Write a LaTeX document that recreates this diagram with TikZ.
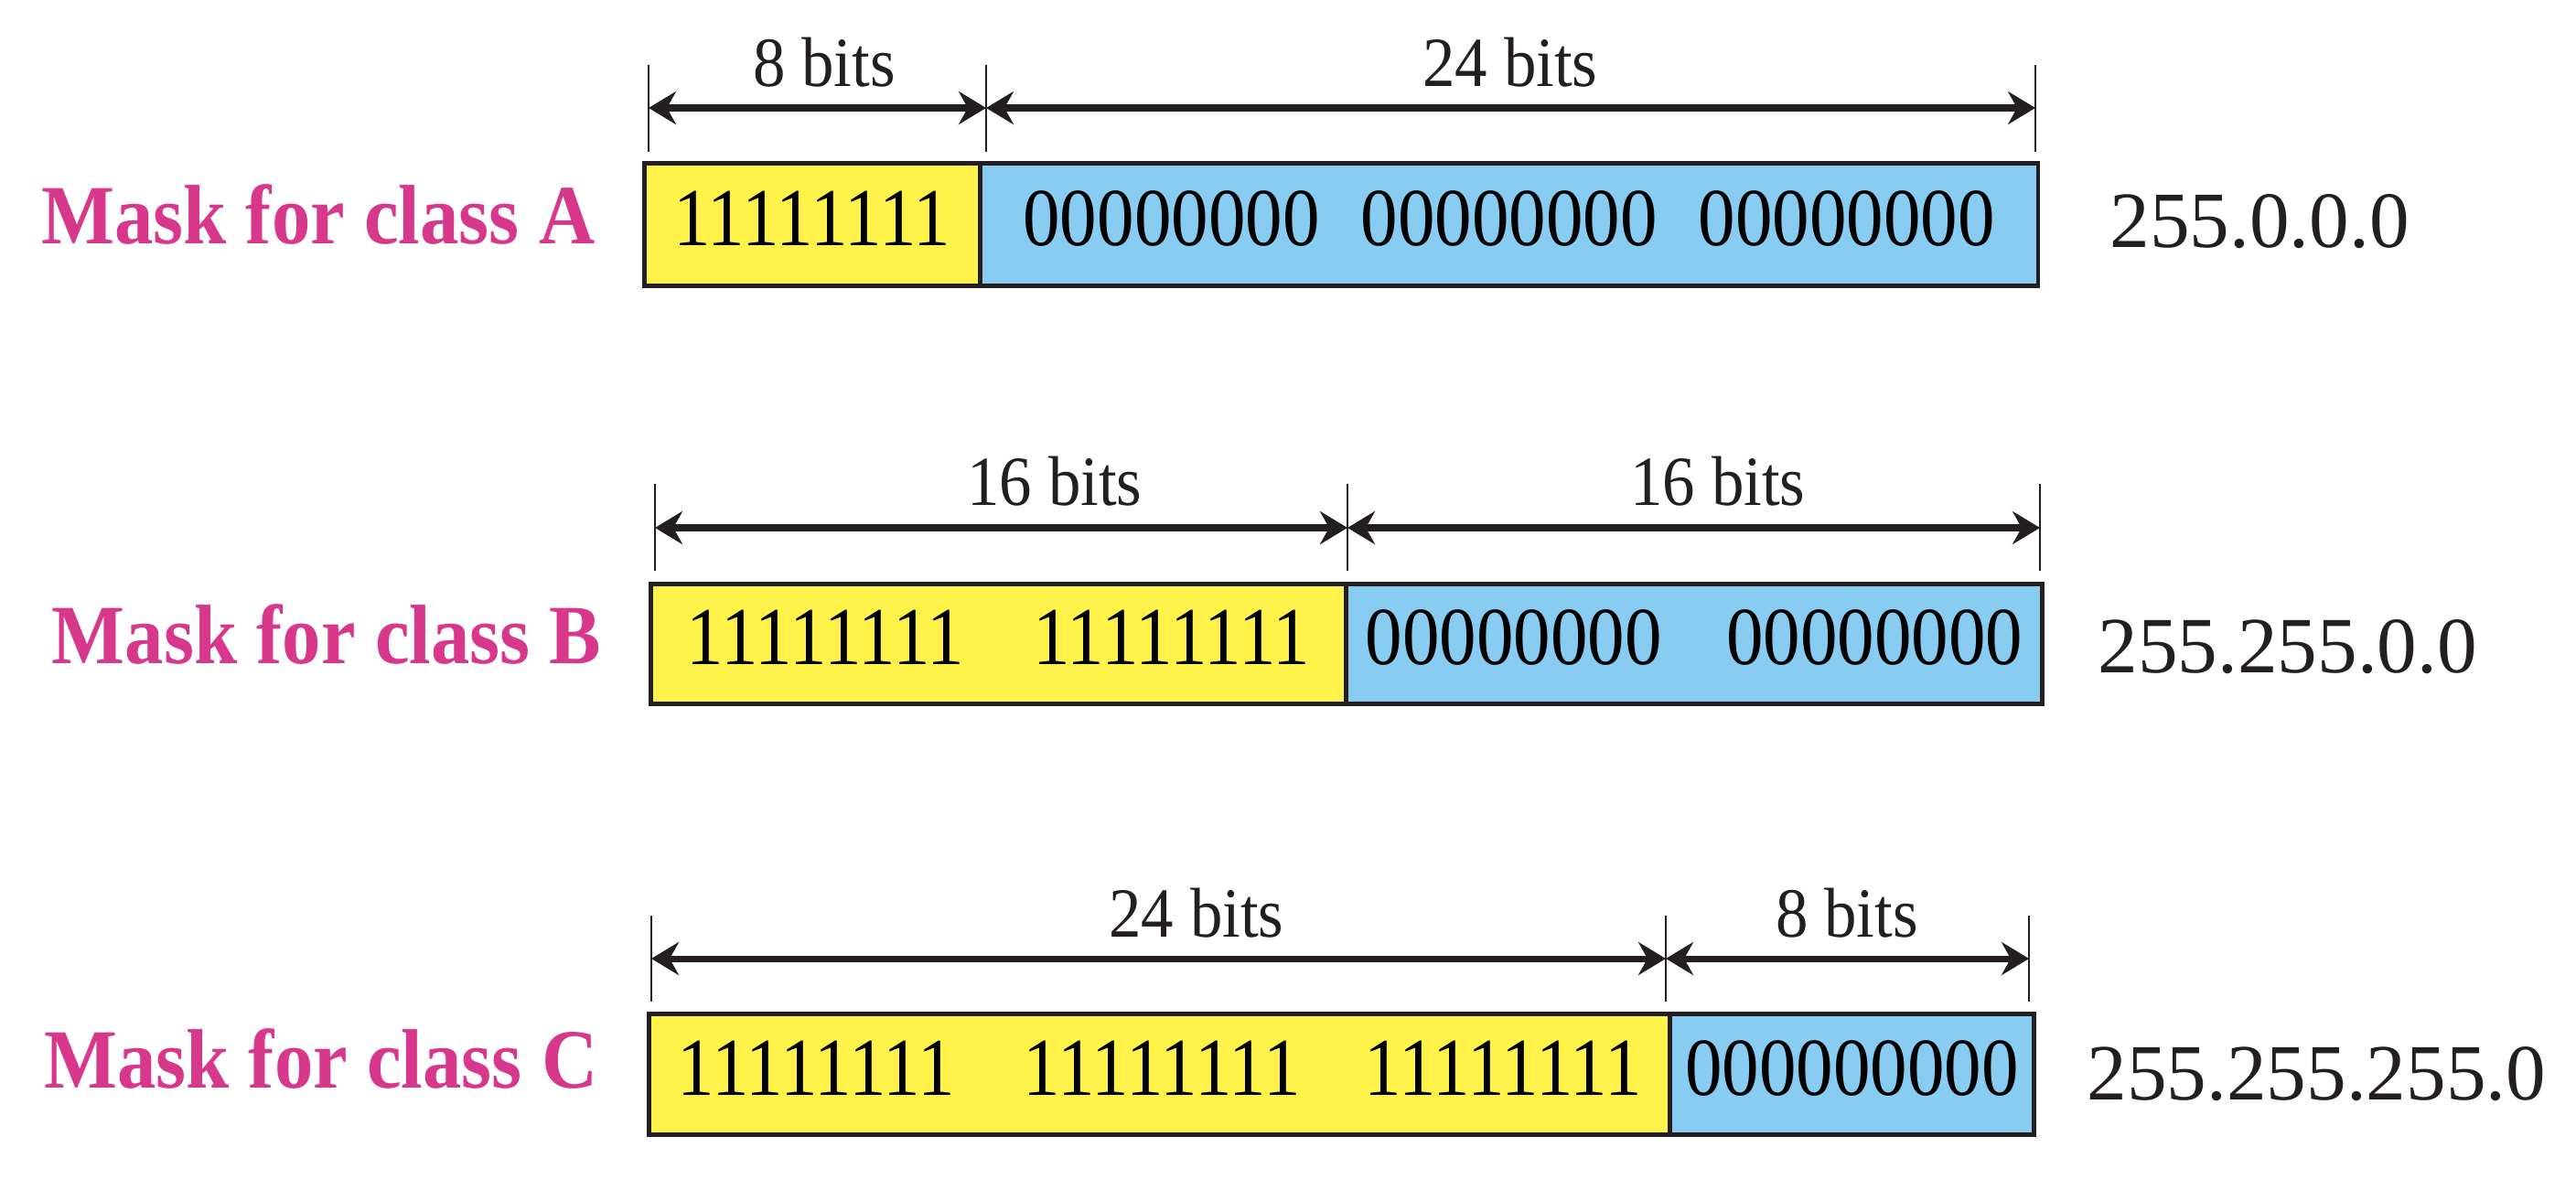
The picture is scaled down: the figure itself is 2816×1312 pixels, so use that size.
\documentclass[tikz,border=0pt]{standalone}
\usepackage{fontspec}
\setmainfont{Liberation Serif}
\newfontfamily\boxfont{Liberation Serif}[FakeStretch=0.9]
\newfontfamily\lblfont{Liberation Serif}[FakeStretch=0.92]
\usetikzlibrary{arrows.meta}
\definecolor{maskyellow}{RGB}{255,242,74}
\definecolor{maskblue}{RGB}{136,204,241}
\definecolor{maskpink}{RGB}{216,56,140}
\definecolor{inkline}{RGB}{35,31,32}
\tikzset{
  seg/.style={draw=inkline, line width=1.3pt, inner sep=0, anchor=north west,
              text depth=0.14cm,
              font=\boxfont\fontsize{25.6}{30}\selectfont},
  ones/.style={seg, fill=maskyellow},
  zeros/.style={seg, fill=maskblue},
  masklabel/.style={inner sep=0, anchor=base east, text=maskpink,
              font=\lblfont\bfseries\fontsize{26.2}{30}\selectfont},
  dotted quad/.style={inner sep=0, anchor=base west, text=inkline,
              font=\fontsize{24.8}{28}\selectfont},
  bitlabel/.style={inner sep=0, anchor=base, text=inkline,
              font=\lblfont\fontsize{21.9}{26}\selectfont},
  tick/.style={draw=inkline, line width=0.8pt},
  span/.style={draw=inkline, line width=2pt,
              {Stealth[length=0.3cm,width=0.36cm,inset=0.1cm]}-{Stealth[length=0.3cm,width=0.36cm,inset=0.1cm]}}
}
\begin{document}
\begin{tikzpicture}[x=0.01cm,y=-0.01cm]
\useasboundingbox (0,0) rectangle (2816,1312);
\fill[white] (0,0) rectangle (2816,1312);

% ---------- Class A ----------
\node[ones, minimum width=3.67cm, minimum height=1.34cm] (ya) at (702,176) {11111111};
\node[zeros, minimum width=11.56cm, minimum height=1.34cm] (ba) at (1069,176)
  {00000000\hspace{0.45cm}00000000\hspace{0.45cm}00000000};
\node[masklabel] (la) at (651,266) {Mask for class A};
\node[dotted quad] (qa) at (2306,270) {255.0.0.0};
\coordinate (a1t) at (709,71);  \coordinate (a1b) at (709,166);
\coordinate (a2t) at (1078,71); \coordinate (a2b) at (1078,166);
\coordinate (a3t) at (2225,71); \coordinate (a3b) at (2225,166);
\coordinate (a1) at (709,118); \coordinate (a2) at (1078,118); \coordinate (a3) at (2225,118);
\draw[tick] (a1t) -- (a1b);
\draw[tick] (a2t) -- (a2b);
\draw[tick] (a3t) -- (a3b);
\draw[span] (a1) -- (a2);
\draw[span] (a2) -- (a3);
\node[bitlabel] (da1) at (901,94) {8 bits};
\node[bitlabel] (da2) at (1651,94) {24 bits};

% ---------- Class B ----------
\node[ones, minimum width=7.60cm, minimum height=1.31cm] (yb) at (709,636)
  {11111111\hspace{0.75cm}11111111};
\node[zeros, minimum width=7.61cm, minimum height=1.31cm] (bb) at (1469,636)
  {00000000\hspace{0.7cm}00000000};
\node[masklabel] (lb) at (658,725) {Mask for class B};
\node[dotted quad] (qb) at (2293,735) {255.255.0.0};
\coordinate (b1t) at (716,529);  \coordinate (b1b) at (716,624);
\coordinate (b2t) at (1473,529); \coordinate (b2b) at (1473,624);
\coordinate (b3t) at (2230,529); \coordinate (b3b) at (2230,624);
\coordinate (b1) at (716,577); \coordinate (b2) at (1473,577); \coordinate (b3) at (2230,577);
\draw[tick] (b1t) -- (b1b);
\draw[tick] (b2t) -- (b2b);
\draw[tick] (b3t) -- (b3b);
\draw[span] (b1) -- (b2);
\draw[span] (b2) -- (b3);
\node[bitlabel] (db1) at (1153,552) {16 bits};
\node[bitlabel] (db2) at (1878,552) {16 bits};

% ---------- Class C ----------
\node[ones, minimum width=11.16cm, minimum height=1.32cm] (yc) at (707,1106)
  {11111111\hspace{0.75cm}11111111\hspace{0.7cm}11111111};
\node[zeros, minimum width=3.98cm, minimum height=1.32cm] (bc) at (1823,1106)
  {000000000};
\node[masklabel] (lc) at (654,1189) {Mask for class C};
\node[dotted quad] (qc) at (2281,1202) {255.255.255.0};
\coordinate (c1t) at (712,1001);  \coordinate (c1b) at (712,1095);
\coordinate (c2t) at (1821,1001); \coordinate (c2b) at (1821,1095);
\coordinate (c3t) at (2218,1001); \coordinate (c3b) at (2218,1095);
\coordinate (c1) at (712,1048); \coordinate (c2) at (1821,1048); \coordinate (c3) at (2218,1048);
\draw[tick] (c1t) -- (c1b);
\draw[tick] (c2t) -- (c2b);
\draw[tick] (c3t) -- (c3b);
\draw[span] (c1) -- (c2);
\draw[span] (c2) -- (c3);
\node[bitlabel] (dc1) at (1308,1024) {24 bits};
\node[bitlabel] (dc2) at (2019,1024) {8 bits};
\end{tikzpicture}
\end{document}
